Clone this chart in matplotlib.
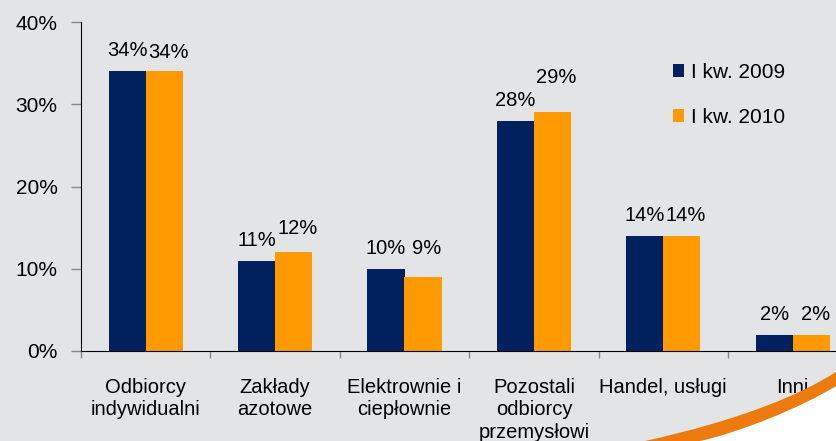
import matplotlib
matplotlib.use("Agg")
import matplotlib.pyplot as plt
import numpy as np
from matplotlib.patches import PathPatch
from matplotlib.path import Path

plt.rcParams['font.family'] = ['Liberation Sans', 'DejaVu Sans']

categories = ["Odbiorcy\nindywidualni", "Zakłady\nazotowe", "Elektrownie i\nciepłownie",
              "Pozostali\nodbiorcy\nprzemysłowi", "Handel, usługi", "Inni"]
series_names = ["I kw. 2009", "I kw. 2010"]
q1_2009 = [34, 11, 10, 28, 14, 2]
q1_2010 = [34, 12, 9, 29, 14, 2]
y_ticks = [0, 10, 20, 30, 40]

# extra lift (pixels) of the value labels above the second series
label_lift_2010 = [-2, 3, 8, 14, 0, 0]

BG = "#e3e4e6"
NAVY = "#00205e"
ORANGE = "#ff9900"
FS = 14.5

W, H = 836, 441
fig = plt.figure(figsize=(W / 100, H / 100), dpi=100, facecolor=BG)

# Decorative swoosh in the lower right corner
def fig_xy(px, py):
    return (px / W, 1 - py / H)

upper = [fig_xy(645, 441), fig_xy(740, 420), fig_xy(800, 395), fig_xy(836, 372)]
lower = [fig_xy(836, 386), fig_xy(800, 408), fig_xy(740, 432), fig_xy(700, 441)]
band = Path(upper + lower + [upper[0]],
            [Path.MOVETO, Path.CURVE4, Path.CURVE4, Path.CURVE4,
             Path.LINETO, Path.CURVE4, Path.CURVE4, Path.CURVE4, Path.CLOSEPOLY])
white = Path(lower + [fig_xy(836, 441), lower[0]],
             [Path.MOVETO, Path.CURVE4, Path.CURVE4, Path.CURVE4, Path.LINETO, Path.CLOSEPOLY])
fig.patches.append(PathPatch(white, transform=fig.transFigure, facecolor="white",
                             edgecolor="none", zorder=0))
fig.patches.append(PathPatch(band, transform=fig.transFigure, facecolor="#ec7a0c",
                             edgecolor="none", zorder=0))

left, bottom_px, top_px, cat_w = 81, 351, 22, 129.4
ax = fig.add_axes([left / W, (H - bottom_px) / H, 6 * cat_w / W, (bottom_px - top_px) / H])
ax.set_facecolor("none")

x = np.arange(len(categories))
bw = 0.286
b1 = ax.bar(x - bw / 2, q1_2009, bw, color=NAVY, label=series_names[0], zorder=2)
b2 = ax.bar(x + bw / 2, q1_2010, bw, color=ORANGE, label=series_names[1], zorder=2)

px2pt = 72 / 100
for r, v in zip(b1, q1_2009):
    ax.annotate(f"{v}%", (r.get_x() + r.get_width() / 2, v), xytext=(0, 15 * px2pt),
                textcoords="offset points", ha="center", va="baseline", fontsize=FS)
for r, v, lift in zip(b2, q1_2010, label_lift_2010):
    ax.annotate(f"{v}%", (r.get_x() + r.get_width() / 2, v),
                xytext=(4 * px2pt, (15 + lift) * px2pt),
                textcoords="offset points", ha="center", va="baseline", fontsize=FS)

ax.set_xlim(-0.5, len(categories) - 0.5)
ax.set_ylim(0, 40)
ax.set_yticks(y_ticks)
ax.set_yticklabels([f"{t}%" for t in y_ticks], fontsize=FS + 0.5)
ax.tick_params(axis="y", direction="out", length=7, width=1, color="#888888", pad=10)

ax.set_xticks(np.arange(len(categories) + 1) - 0.5)
ax.set_xticklabels([])
ax.tick_params(axis="x", direction="out", length=5, width=1, color="#888888")
for i, c in enumerate(categories):
    ax.annotate(c, (i, 0), xytext=(0, -27 * px2pt), textcoords="offset points",
                ha="center", va="top", fontsize=FS, linespacing=1.22)

for s in ("top", "right"):
    ax.spines[s].set_visible(False)
ax.spines["left"].set_color("black")
ax.spines["bottom"].set_color("black")

leg = fig.legend(handles=[b1, b2], labels=series_names, loc="upper left",
                 bbox_to_anchor=(673 / W, 1 - 63 / H),
                 frameon=False, fontsize=FS + 0.5, handlelength=0.55, handleheight=0.55,
                 handletextpad=0.3, labelspacing=1.25, borderaxespad=0, borderpad=0)

fig.savefig("out.png", dpi=100, facecolor=BG)
